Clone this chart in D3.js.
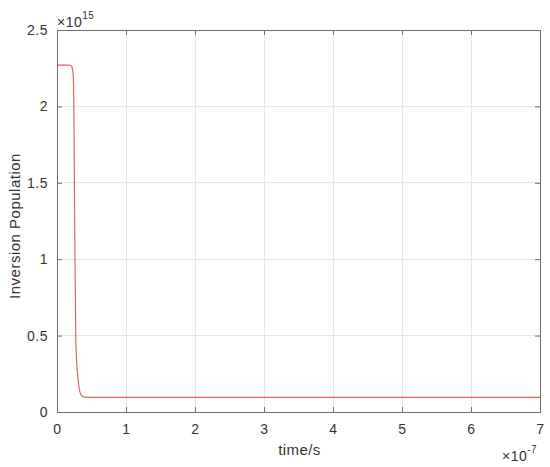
<!DOCTYPE html>
<html>
<head>
<meta charset="utf-8">
<script src="https://cdn.jsdelivr.net/npm/d3@7"></script>
<style>
  html, body { margin: 0; padding: 0; background: #fff; }
  svg { display: block; font-family: "Liberation Sans", Arial, sans-serif; }
</style>
</head>
<body>
<svg id="chart" width="550" height="467"></svg>
<script>
// time in units of 1e-7 s, population in units of 1e15
const timeValues = [0, 0.10, 0.174, 0.200, 0.213, 0.225, 0.236, 0.246, 0.254, 0.261, 0.271, 0.283, 0.296, 0.309, 0.333, 0.362, 0.406, 0.5, 1, 2, 3, 4, 5, 6, 7];
const populationValues = [2.27, 2.27, 2.27, 2.268, 2.262, 2.24, 2.20, 1.91, 1.39, 0.99, 0.54, 0.34, 0.26, 0.20, 0.13, 0.105, 0.097, 0.096, 0.096, 0.096, 0.096, 0.096, 0.096, 0.096, 0.096];
const xTicks = [0, 1, 2, 3, 4, 5, 6, 7];
const yTicks = [0, 0.5, 1, 1.5, 2, 2.5];
const xLabel = "time/s";
const yLabel = "Inversion Population";
const yExponent = "15";
const xExponent = "-7";

(function () {
const svg = d3.select("#chart");
const pL = 57, pR = 540, pT = 30, pB = 412;
const x = d3.scaleLinear().domain([0, 7]).range([pL, pR]);
const y = d3.scaleLinear().domain([0, 2.5]).range([pB, pT]);

const textColor = "#333333";
const tickFmt = d => String(d);

// grid
const grid = svg.append("g");
grid.selectAll("line.vx").data(xTicks).join("line")
  .attr("x1", d => x(d)).attr("x2", d => x(d)).attr("y1", pT).attr("y2", pB)
  .attr("stroke", "#e6e6e6").attr("stroke-width", 1).attr("shape-rendering", "crispEdges");
grid.selectAll("line.hy").data(yTicks).join("line")
  .attr("x1", pL).attr("x2", pR).attr("y1", d => y(d)).attr("y2", d => y(d))
  .attr("stroke", "#e6e6e6").attr("stroke-width", 1).attr("shape-rendering", "crispEdges");

// data line
const line = d3.line().x((d, i) => x(timeValues[i])).y(d => y(d)).curve(d3.curveMonotoneX);
svg.append("path").datum(populationValues)
  .attr("d", line).attr("fill", "none")
  .attr("stroke", "#e9585c").attr("stroke-width", 1.1);

// axes (ticks inward)
const tl = 5;
const xAxisB = d3.axisBottom(x).tickValues(xTicks).tickFormat(tickFmt).tickSizeInner(-tl).tickSizeOuter(0).tickPadding(12);
const xAxisT = d3.axisTop(x).tickValues(xTicks).tickFormat("").tickSizeInner(-tl).tickSizeOuter(0);
const yAxisL = d3.axisLeft(y).tickValues(yTicks).tickFormat(tickFmt).tickSizeInner(-tl).tickSizeOuter(0).tickPadding(9);
const yAxisR = d3.axisRight(y).tickValues(yTicks).tickFormat("").tickSizeInner(-tl).tickSizeOuter(0);

function style(g) {
  g.select(".domain").remove();
  g.selectAll(".tick line").attr("stroke", "#6e6e6e");
  g.selectAll(".tick text").attr("fill", textColor).style("font-size", "14px")
    .style("letter-spacing", "0.5px").style("font-family", "Liberation Sans, Arial, sans-serif");
}
svg.append("g").attr("transform", `translate(0,${pB})`).call(xAxisB).call(style);
svg.append("g").attr("transform", `translate(0,${pT})`).call(xAxisT).call(style);
svg.append("g").attr("transform", `translate(${pL},0)`).call(yAxisL).call(style);
svg.append("g").attr("transform", `translate(${pR},0)`).call(yAxisR).call(style);

// box
svg.append("rect").attr("x", pL).attr("y", pT).attr("width", pR - pL).attr("height", pB - pT)
  .attr("fill", "none").attr("stroke", "#6e6e6e").attr("stroke-width", 1).attr("shape-rendering", "crispEdges");

// labels
svg.append("text").attr("x", (pL + pR) / 2 + 1).attr("y", 455).attr("text-anchor", "middle")
  .attr("fill", textColor).style("font-size", "15px").style("letter-spacing", "0.4px").text(xLabel);
svg.append("text").attr("transform", `translate(20,226) rotate(-90)`).attr("text-anchor", "middle")
  .attr("fill", textColor).style("font-size", "15px").style("letter-spacing", "0.5px").text(yLabel);

// exponents
const ey = svg.append("text").attr("x", 57).attr("y", 27).attr("fill", textColor)
  .style("font-size", "14px").style("letter-spacing", "0.5px");
ey.append("tspan").text("×10");
ey.append("tspan").attr("dy", -8).style("font-size", "10px").text(yExponent);

const ex = svg.append("text").attr("x", 502).attr("y", 461).attr("fill", textColor)
  .style("font-size", "14px").style("letter-spacing", "0.5px");
ex.append("tspan").text("×10");
ex.append("tspan").attr("dy", -8).style("font-size", "10px").text(xExponent);
})();
</script>
</body>
</html>
